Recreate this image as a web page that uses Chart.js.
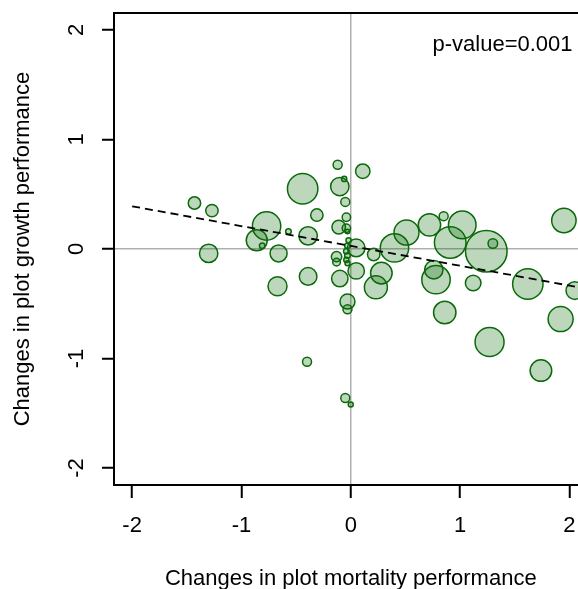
<!DOCTYPE html>
<html>
<head>
<meta charset="utf-8">
<script src="https://cdn.jsdelivr.net/npm/chart.js@4.4.1/dist/chart.umd.min.js"></script>
<style>
  html, body { margin: 0; padding: 0; background: #fff; overflow: hidden; width: 578px; height: 589px; position: relative; }
  canvas { display: block; position: absolute; left: 0; top: -10px; }
</style>
</head>
<body>
<canvas id="c" width="611" height="620" style="width:611px;height:620px"></canvas>
<script>
// ---- data ----
const mortalityChange = [
  -0.12, 0.11, -0.06, -0.44, -0.10, -1.43, -1.27, -0.05, -0.31, -0.77,
  -0.57, -0.86, -0.81, -0.39, -0.11, -0.04, -0.04, -0.03, -1.30, -0.66,
   0.05, -0.03, -0.04, -0.03, -0.13, -0.13, -0.03, 0.21, 0.40, 0.51,
   0.72, 0.85, 1.02, 0.91, 1.24, 1.30, 1.95, -0.39, -0.10, 0.05,
   0.28, 0.23, -0.67, 0.76, 0.78, 1.12, 1.62, 2.05, -0.03, -0.03,
   0.86, 1.92, 1.27, 1.74, -0.40, -0.05, 0.00, -0.02, -0.04
];
const growthChange = [
   0.77, 0.71, 0.64, 0.55, 0.57, 0.42, 0.35, 0.43, 0.31, 0.21,
   0.16, 0.08, 0.03, 0.12, 0.20, 0.29, 0.19, 0.16, -0.04, -0.04,
   0.01, 0.03, -0.02, -0.06, -0.07, -0.12, -0.13, -0.05, 0.01, 0.15,
   0.22, 0.30, 0.22, 0.06, -0.02, 0.05, 0.26, -0.25, -0.27, -0.20,
  -0.22, -0.35, -0.34, -0.19, -0.28, -0.31, -0.32, -0.38, -0.48, -0.55,
  -0.58, -0.64, -0.85, -1.11, -1.03, -1.36, -1.42, 0.08, -0.10
];
const bubbleSize = [
   4.5, 7.2, 2.6, 15.2, 9.2, 6.2, 6.2, 4.5, 6.2, 14.2,
   2.8, 10.5, 2.8, 9.2, 6.8, 4.2, 4.2, 2.3, 9.2, 8.5,
   8.8, 2.8, 2.8, 2.8, 5.2, 3.8, 2.5, 6.2, 14.2, 12.5,
  11.2, 4.5, 13.8, 15.8, 20.8, 4.8, 12.2, 8.8, 8.2, 8.2,
  10.8, 11.5, 9.5, 9.2, 14.2, 7.8, 15.2, 8.8, 7.5, 4.5,
  11.2, 12.5, 14.5, 10.8, 4.5, 4.5, 2.5, 2.6, 2.6
];
const trendX = [-2, 2.2];
const trendY = [0.39, -0.37];
const xTicks = [-2, -1, 0, 1, 2];
const yTicks = [-2, -1, 0, 1, 2];
const xTitle = 'Changes in plot mortality performance';
const yTitle = 'Changes in plot growth performance';
const pValueText = 'p-value=0.001';

const FONT = 'Liberation Sans, Arial, sans-serif';

const bubbles = mortalityChange.map((x, i) => ({ x: x, y: growthChange[i], r: bubbleSize[i] }));
const trend = trendX.map((x, i) => ({ x: x, y: trendY[i] }));

const decorPlugin = {
  id: 'decor',
  afterDraw(chart) {
    const { ctx, chartArea: a, scales } = chart;
    ctx.save();
    // frame (top / right)
    ctx.strokeStyle = '#000';
    ctx.lineWidth = 2;
    ctx.beginPath();
    ctx.moveTo(a.left - 1, a.top);
    ctx.lineTo(a.right, a.top);
    ctx.lineTo(a.right, a.bottom);
    ctx.stroke();
    // rotated y tick labels
    ctx.fillStyle = '#000';
    ctx.font = '22px ' + FONT;
    ctx.textAlign = 'center';
    ctx.textBaseline = 'alphabetic';
    yTicks.forEach(v => {
      const py = scales.y.getPixelForValue(v);
      ctx.save();
      ctx.translate(82.5, py);
      ctx.rotate(-Math.PI / 2);
      ctx.fillText(String(v), 0, 0);
      ctx.restore();
    });
    // p-value annotation
    ctx.textAlign = 'left';
    ctx.fillText(pValueText, 432.5, a.top + 38);
    ctx.restore();
  }
};

new Chart(document.getElementById('c'), {
  data: {
    datasets: [
      {
        type: 'line',
        data: trend,
        borderColor: '#000',
        borderWidth: 1.8,
        borderDash: [8, 5],
        pointRadius: 0,
        fill: false,
        order: 0
      },
      {
        type: 'bubble',
        data: bubbles,
        backgroundColor: 'rgba(0,100,0,0.26)',
        borderColor: '#0a6a0a',
        borderWidth: 1.5,
        order: 1
      }
    ]
  },
  options: {
    responsive: false,
    animation: false,
    devicePixelRatio: 1,
    layout: { padding: { left: 0, top: 23, right: 23.5, bottom: 0 } },
    plugins: { legend: { display: false }, tooltip: { enabled: false } },
    scales: {
      x: {
        type: 'linear',
        position: 'bottom',
        min: -2.166,
        max: 2.166,
        afterBuildTicks: s => { s.ticks = xTicks.map(v => ({ value: v })); },
        grid: {
          drawOnChartArea: true,
          color: c => (c.tick && c.tick.value === 0) ? '#b0b0b0' : 'rgba(0,0,0,0)',
          lineWidth: 1.5,
          drawTicks: true,
          tickLength: 13,
          tickColor: '#000',
          tickWidth: 2
        },
        border: { display: true, color: '#000', width: 2 },
        ticks: {
          padding: 15,
          color: '#000',
          maxRotation: 0,
          font: { family: FONT, size: 22 }
        },
        title: {
          display: true,
          text: xTitle,
          color: '#000',
          font: { family: FONT, size: 22 },
          padding: { top: 11.4, bottom: 17.8 }
        }
      },
      y: {
        type: 'linear',
        position: 'left',
        min: -2.155,
        max: 2.155,
        afterBuildTicks: s => { s.ticks = yTicks.map(v => ({ value: v })); },
        grid: {
          drawOnChartArea: true,
          color: c => (c.tick && c.tick.value === 0) ? '#b0b0b0' : 'rgba(0,0,0,0)',
          lineWidth: 1.5,
          drawTicks: true,
          tickLength: 12,
          tickColor: '#000',
          tickWidth: 2
        },
        border: { display: true, color: '#000', width: 2 },
        ticks: { display: false },
        title: {
          display: true,
          text: yTitle,
          color: '#000',
          font: { family: FONT, size: 22 },
          padding: { top: 10.2, bottom: 65.4 }
        }
      }
    }
  },
  plugins: [decorPlugin]
});
</script>
</body>
</html>
